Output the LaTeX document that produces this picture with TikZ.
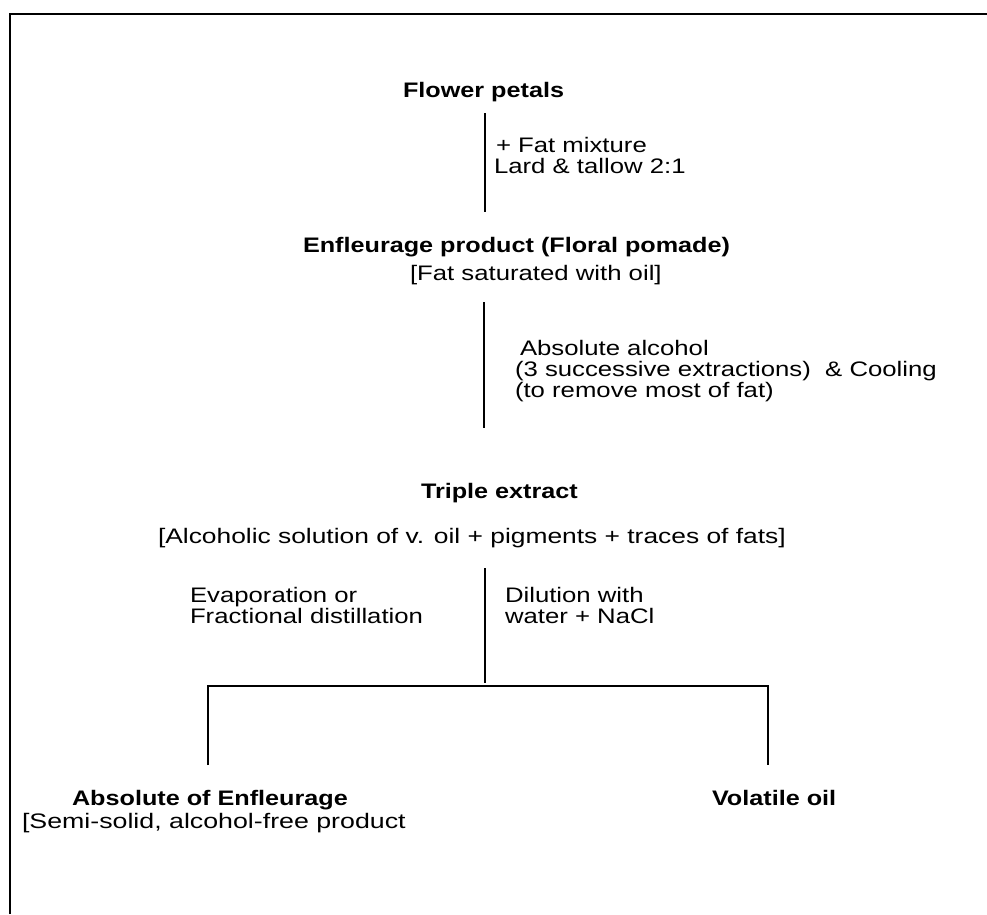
\documentclass[tikz,border=0pt]{standalone}
\usepackage{fontspec}
\usepackage{graphicx}
\setmainfont[FakeStretch=1.225]{Liberation Sans}
\newfontfamily\boldfam[FakeStretch=1.2]{Liberation Sans}
\begin{document}
\begin{tikzpicture}[x=1pt,y=-1pt,
  txt/.style={anchor=base west,inner sep=0pt,outer sep=0pt,font=\fontsize{21}{22}\selectfont},
  btxt/.style={txt,font=\fontsize{21}{22}\selectfont\boldfam\bfseries},
  conn/.style={line width=2.5pt},
  frame/.style={line width=2.5pt}]
\useasboundingbox (0,0) rectangle (987,914);
% frame (top and left edges only)
\coordinate (fbl) at (10,914);
\coordinate (ftl) at (10,14);
\coordinate (ftr) at (987,14);
\draw[frame] (fbl) -- (ftl) -- (ftr);

% texts
\node[btxt] (fp) at (403,97) {Flower petals};
\node[txt] (fm1) at (496,152) {+ Fat mixture};
\node[txt] (fm2) at (494,173) {Lard \& tallow 2:1};
\node[btxt] (ep) at (303,252) {Enfleurage product (Floral pomade)};
\node[txt] (fs) at (410,280) {[Fat saturated with oil]};
\node[txt] (aa1) at (520,355) {Absolute alcohol};
\node[txt] (aa2) at (515,376) {(3 successive extractions)\ \ \& Cooling};
\node[txt] (aa3) at (515,397) {(to remove most of fat)};
\node[btxt] (te) at (421,498) {Triple extract};
\node[txt] (as) at (158,543) {\scalebox{1.025}[1]{[Alcoholic solution of v. oil + pigments + traces of fats]}};
\node[txt] (ev1) at (190,602) {Evaporation or};
\node[txt] (ev2) at (190,623) {Fractional distillation};
\node[txt] (di1) at (505,602) {Dilution with};
\node[txt] (di2) at (505,623) {water + NaCl};
\node[btxt] (ae) at (72,805) {Absolute of Enfleurage};
\node[txt] (ss) at (22,828) {\scalebox{1.04}[1]{[Semi-solid, alcohol-free product}};
\node[btxt] (vo) at (712,805) {Volatile oil};

% connectors
\coordinate (l1a) at (485,113);
\coordinate (l1b) at (485,212);
\coordinate (l2a) at (484,302);
\coordinate (l2b) at (484,428);
\coordinate (l3a) at (485,568);
\coordinate (l3b) at (485,683);
\coordinate (hl) at (208,686);
\coordinate (hr) at (768,686);
\coordinate (bl) at (208,765);
\coordinate (br) at (768,765);
\draw[conn] (l1a) -- (l1b);
\draw[conn] (l2a) -- (l2b);
\draw[conn] (l3a) -- (l3b);
\draw[conn] (bl) -- (hl) -- (hr) -- (br);
\end{tikzpicture}
\end{document}
